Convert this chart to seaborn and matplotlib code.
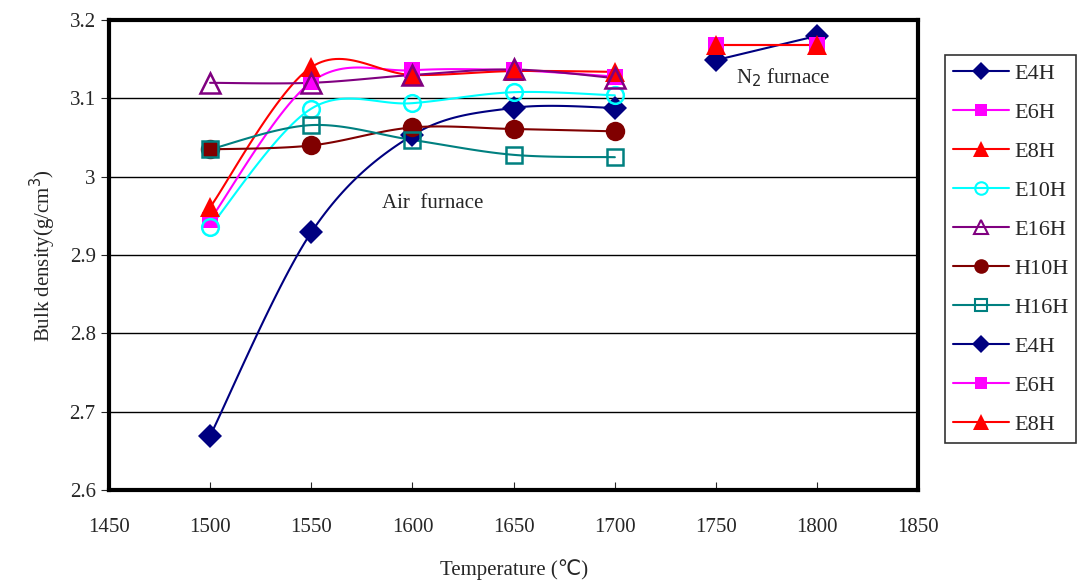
import numpy as np
import pandas as pd
import seaborn as sns
import matplotlib.pyplot as plt
from matplotlib.lines import Line2D

# air furnace temperatures and N2 furnace temperatures
temp_air = [1500, 1550, 1600, 1650, 1700]
temp_n2 = [1750, 1800]

# bulk density values
e4h = [2.669, 2.929, 3.053, 3.088, 3.088]
e6h = [2.945, 3.121, 3.136, 3.136, 3.128]
e8h = [2.961, 3.140, 3.130, 3.135, 3.134]
e10h = [2.936, 3.087, 3.094, 3.108, 3.104]
e16h = [3.120, 3.120, 3.130, 3.137, 3.126]
h10h = [3.035, 3.040, 3.063, 3.061, 3.058]
h16h = [3.035, 3.066, 3.047, 3.028, 3.025]
e4h_n2 = [3.149, 3.180]
e6h_n2 = [3.168, 3.168]
e8h_n2 = [3.168, 3.168]

series_names = ["E4H", "E6H", "E8H", "E10H", "E16H", "H10H", "H16H", "E4H", "E6H", "E8H"]


def smooth(x, y, n=30):
    # excel style bezier smoothing through the points
    x = np.asarray(x, float)
    y = np.asarray(y, float)
    if len(x) < 3:
        return x, y
    px, py = [], []
    for i in range(len(x) - 1):
        x0, y0 = (x[i - 1], y[i - 1]) if i > 0 else (x[i], y[i])
        x3, y3 = (x[i + 2], y[i + 2]) if i + 2 < len(x) else (x[i + 1], y[i + 1])
        c1x = x[i] + (x[i + 1] - x0) / 6
        c1y = y[i] + (y[i + 1] - y0) / 6
        c2x = x[i + 1] - (x3 - x[i]) / 6
        c2y = y[i + 1] - (y3 - y[i]) / 6
        t = np.linspace(0, 1, n)
        px.append((1-t)**3*x[i] + 3*(1-t)**2*t*c1x + 3*(1-t)*t**2*c2x + t**3*x[i+1])
        py.append((1-t)**3*y[i] + 3*(1-t)**2*t*c1y + 3*(1-t)*t**2*c2y + t**3*y[i+1])
    return np.concatenate(px), np.concatenate(py)


sns.set_style("white")
plt.rcParams['font.family'] = ['Liberation Serif', 'DejaVu Sans']

fig = plt.figure(figsize=(10.78, 5.88), dpi=100)
ax = fig.add_axes([0.101, 0.1667, 0.751, 0.799])

styles = [
    # data, x, color, marker, size, filled
    (e4h, temp_air, "#000080", "D", 12, True),
    (e6h, temp_air, "#FF00FF", "s", 12, True),
    (e8h, temp_air, "#FF0000", "^", 15, True),
    (e10h, temp_air, "#00FFFF", "o", 12, False),
    (e16h, temp_air, "#800080", "^", 14, False),
    (h10h, temp_air, "#800000", "o", 14, True),
    (h16h, temp_air, "#008080", "s", 12, False),
    (e4h_n2, temp_n2, "#000080", "D", 12, True),
    (e6h_n2, temp_n2, "#FF00FF", "s", 12, True),
    (e8h_n2, temp_n2, "#FF0000", "^", 15, True),
]

handles = []
for (vals, xs, col, mk, ms, filled), name in zip(styles, series_names):
    sx, sy = smooth(xs, vals)
    df = pd.DataFrame({"x": sx, "y": sy})
    sns.lineplot(data=df, x="x", y="y", color=col, lw=1.5, sort=False, estimator=None, ax=ax)
    fc = col if filled else "none"
    mew = 0 if filled else 1.8
    ax.plot(xs, vals, linestyle="none", marker=mk, markersize=ms, markerfacecolor=fc,
            markeredgecolor=col, markeredgewidth=mew, zorder=5)
    handles.append(Line2D([], [], color=col, lw=1.5, marker=mk, markersize=ms * 0.75,
                          markerfacecolor=fc, markeredgecolor=col,
                          markeredgewidth=0 if filled else 1.5, label=name))

ax.set_xlim(1450, 1850)
ax.set_ylim(2.6, 3.2)
ax.set_xticks(np.arange(1450, 1851, 50))
ax.set_yticks([2.6, 2.7, 2.8, 2.9, 3.0, 3.1, 3.2])
ax.set_yticklabels(["2.6", "2.7", "2.8", "2.9", "3", "3.1", "3.2"])
ax.yaxis.grid(True, color="black", lw=1)
ax.xaxis.grid(False)
for s in ax.spines.values():
    s.set_linewidth(3)
    s.set_color("black")
ax.tick_params(axis="x", direction="in", length=6, width=0.8, labelsize=15, pad=20)
ax.tick_params(axis="y", direction="out", length=6, width=0.8, labelsize=15, left=True)
ax.tick_params(axis="x", bottom=True)

ax.set_xlabel("Temperature (\u2103)", fontsize=15, labelpad=16)
ax.set_ylabel("Bulk density(g/cm$^3$)", fontsize=15, labelpad=8)

ax.text(1610, 2.966, "Air  furnace", fontsize=15, ha="center", va="center")
ax.text(1783, 3.126, "N$_2$ furnace", fontsize=15, ha="center", va="center")

leg = fig.legend(handles=handles, loc="upper left", bbox_to_anchor=(945 / 1078, 1 - 55 / 588),
                 fontsize=16, frameon=True, fancybox=False, edgecolor="black",
                 labelspacing=0.83, handlelength=2.5, borderaxespad=0, borderpad=0.36,
                 handletextpad=0.25)
leg.get_frame().set_linewidth(1.2)

fig.savefig("out.png", dpi=100)
